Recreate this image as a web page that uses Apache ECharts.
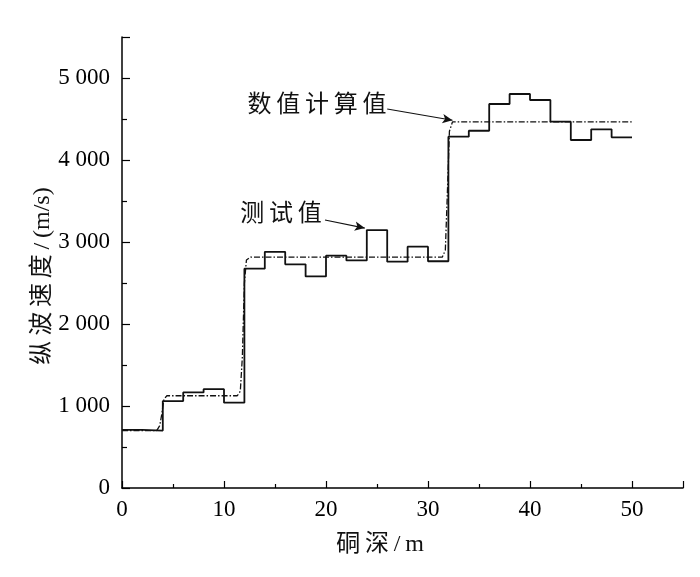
<!DOCTYPE html>
<html><head><meta charset="utf-8">
<script src="https://cdn.jsdelivr.net/npm/echarts@6/dist/echarts.min.js"></script>
<style>html,body{margin:0;padding:0;background:#fff}#c{width:700px;height:577px}</style>
</head><body><div id="c"></div>
<script>
// measured values (测试值), each holds from its depth to the next depth
const measuredDepth = [0,2,4,6,8,10,12,14,16,18,20,22,24,26,28,30,32,34,36,38,40,42,44,46,48,50];
const measuredVel   = [710,700,1060,1165,1205,1040,2675,2880,2728,2580,2833,2775,3146,2760,2943,2765,4284,4357,4683,4805,4732,4467,4244,4374,4277,4277];
// computed values (数值计算值)
const calcDepth = [0,3.4,3.7,3.9,4.1,4.4,11.3,11.6,11.8,12.0,12.2,12.6,31.4,31.7,31.9,32.1,32.4,50];
const calcVel   = [700,700,760,900,1080,1125,1125,1180,1600,2500,2780,2815,2815,2900,3600,4350,4465,4465];
// annotation arrows in data space
const arrowCalc = [[26.0,4622],[32.4,4485]];
const arrowMeas = [[19.9,3268],[23.8,3170]];

const NUM = '"Liberation Serif", "Times New Roman", serif';
const MIX = '24px "Liberation Serif", "Noto Sans CJK SC", serif';
const T = '\u2009';

const chart = echarts.init(document.getElementById('c'));
chart.setOption({
  animation:false,
  backgroundColor:'#fff',
  grid:{left:122, top:37, width:561, height:451},
  xAxis:{type:'value', min:0, max:55, interval:10,
    axisLine:{lineStyle:{color:'#000', width:1.5}},
    axisTick:{inside:true, length:7, lineStyle:{color:'#000', width:1.2}},
    minorTick:{show:true, splitNumber:2, length:4, lineStyle:{color:'#000', width:1.2}},
    splitLine:{show:false},
    axisLabel:{color:'#000', fontFamily:NUM, fontSize:23, margin:10,
      formatter:v=> v>50 ? '' : String(v)}
  },
  yAxis:{type:'value', min:0, max:5500, interval:1000,
    axisLine:{show:true, lineStyle:{color:'#000', width:1.5}},
    axisTick:{show:true, inside:true, length:8, lineStyle:{color:'#000', width:1.2}},
    minorTick:{show:true, splitNumber:2, length:5, lineStyle:{color:'#000', width:1.2}},
    splitLine:{show:false},
    axisLabel:{color:'#000', fontFamily:NUM, fontSize:23, margin:12,
      formatter:v=> v>5000 ? '' : (v>=1000 ? Math.floor(v/1000)+' '+String(v%1000).padStart(3,'0') : String(v))}
  },
  series:[
    {type:'line', name:'测试值', step:'end', symbol:'none',
      data: measuredDepth.map((d,i)=>[d, measuredVel[i]]),
      lineStyle:{color:'#111', width:1.8},
      markLine:{silent:true, symbol:['none','arrow'], symbolSize:[7,10],
        lineStyle:{color:'#111', width:1.2, type:'solid'}, label:{show:false},
        data:[[{coord:arrowMeas[0]},{coord:arrowMeas[1]}]]}
    },
    {type:'line', name:'数值计算值', symbol:'none',
      data: calcDepth.map((d,i)=>[d, calcVel[i]]),
      lineStyle:{color:'#111', width:1.3, type:[6,2,1.5,2]},
      markLine:{silent:true, symbol:['none','arrow'], symbolSize:[7,10],
        lineStyle:{color:'#111', width:1.2, type:'solid'}, label:{show:false},
        data:[[{coord:arrowCalc[0]},{coord:arrowCalc[1]}]]}
    }
  ],
  graphic:[
    {type:'text', x:317, y:106, style:{text:['数','值','计','算','值'].join(T), font:MIX, fill:'#111', align:'center', verticalAlign:'middle'}},
    {type:'text', x:281, y:215, style:{text:['测','试','值'].join(T), font:MIX, fill:'#111', align:'center', verticalAlign:'middle'}},
    {type:'text', x:380, y:545, style:{text:['硐','深','/','m'].join(T), font:MIX, fill:'#111', align:'center', verticalAlign:'middle'}},
    {type:'text', x:43, y:276, rotation:Math.PI/2, style:{text:['纵','波','速','度','/','(m/s)'].join(T), font:MIX, fill:'#111', align:'center', verticalAlign:'middle'}}
  ]
});
</script></body></html>
